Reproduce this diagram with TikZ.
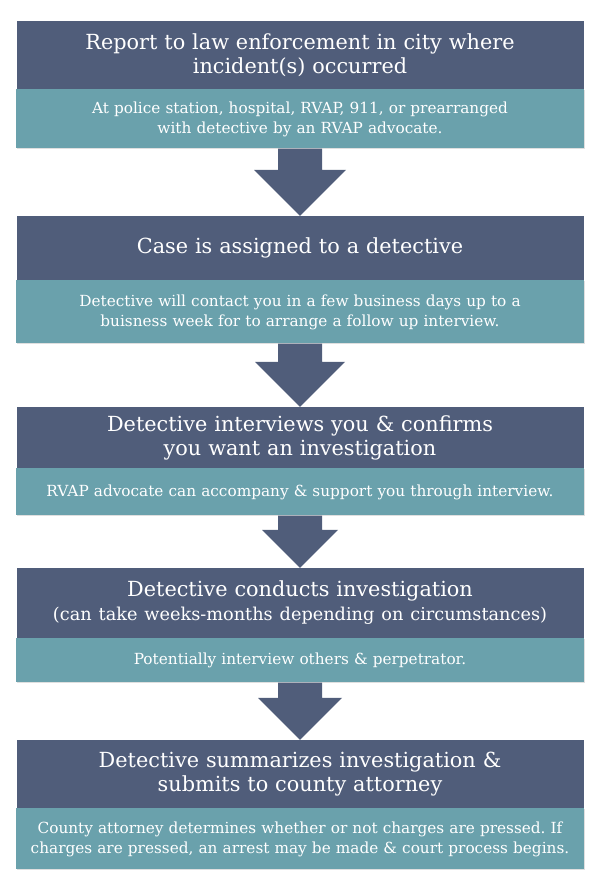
\documentclass[tikz,border=0pt]{standalone}
\usepackage{fontspec}
\setmainfont{DejaVu Serif}
\frenchspacing
\usetikzlibrary{calc,positioning,shadows}
\definecolor{slate}{RGB}{80,93,122}
\definecolor{teal}{RGB}{106,161,172}
\tikzset{
  stepbox/.style={fill=slate, text=white, minimum width=567pt, text width=565pt,
    align=center, inner sep=0pt, font=\fontsize{20.8}{24}\selectfont},
  notebox/.style={fill=teal, text=white, minimum width=568pt, text width=566pt,
    align=center, inner sep=0pt, font=\fontsize{15.3}{20}\selectfont,
    drop shadow={shadow xshift=0.5pt, shadow yshift=-1pt, opacity=.25}},
  arrowfill/.style={fill=slate},
}

\begin{document}
\begin{tikzpicture}[x=1pt,y=-1pt]
\useasboundingbox (0,0) rectangle (600,888);
% five steps, each with a note underneath
\node[stepbox, minimum height=68] (report) at (300,55)
  {Report to law enforcement in city where\\incident(s) occurred};
\node[notebox, minimum height=59, below=0pt of report] (reportnote)
  {At police station, hospital, RVAP, 911, or prearranged\\with detective by an RVAP advocate.};
\node[stepbox, minimum height=64] (case) at (300,248)
  {Case is assigned to a detective};
\node[notebox, minimum height=63, below=0pt of case] (casenote)
  {Detective will contact you in a few business days up to a\\buisness week for to arrange a follow up interview.};
\node[stepbox, minimum height=61] (interview) at (300,437.5)
  {Detective interviews you \& confirms\\you want an investigation};
\node[notebox, minimum height=47, below=0pt of interview] (interviewnote)
  {RVAP advocate can accompany \& support you through interview.};
\node[stepbox, minimum height=70] (investigate) at (300,603)
  {Detective conducts investigation\\{\fontsize{17.7}{22}\selectfont(can take weeks-months depending on circumstances)}};
\node[notebox, minimum height=44, below=0pt of investigate] (investigatenote)
  {Potentially interview others \& perpetrator.};
\node[stepbox, minimum height=68] (summary) at (300,774)
  {Detective summarizes investigation \&\\submits to county attorney};
\node[notebox, minimum height=61, below=0pt of summary] (summarynote)
  {County attorney determines whether or not charges are pressed. If\\charges are pressed, an arrest may be made \& court process begins.};
% block arrows between the steps
\foreach \a/\b/\h in {reportnote/case/46, casenote/interview/45,
    interviewnote/investigate/38, investigatenote/summary/42}
  \fill[arrowfill] ($(\a.south)+(-22,0)$) -- ($(\b.north)+(-22,-\h)$)
    -- ($(\b.north)+(-\h,-\h)$) -- (\b.north) -- ($(\b.north)+(\h,-\h)$)
    -- ($(\b.north)+(22,-\h)$) -- ($(\a.south)+(22,0)$) -- cycle;
\end{tikzpicture}
\end{document}
